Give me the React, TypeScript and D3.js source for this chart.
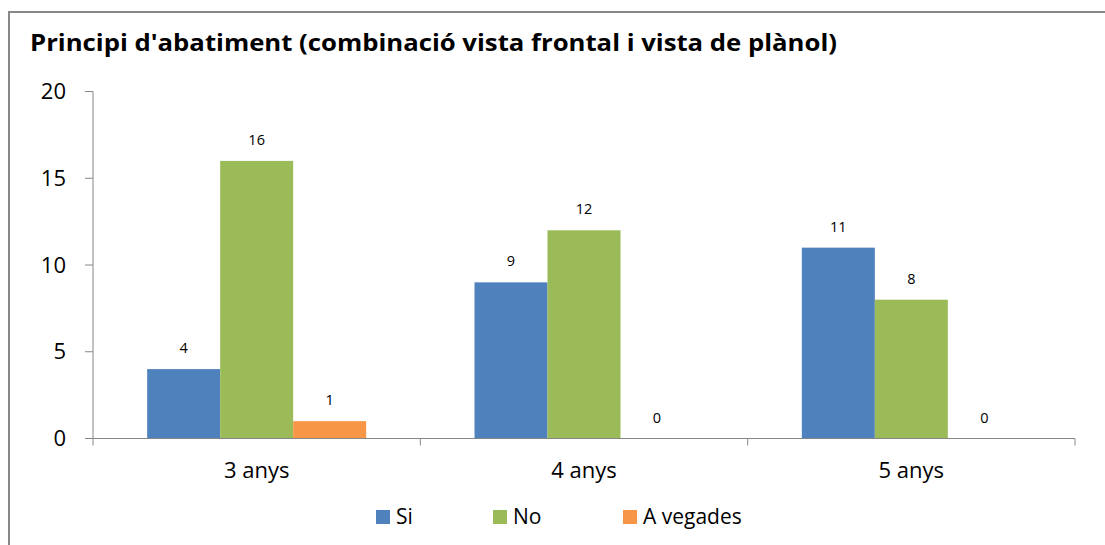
import React from 'react';
import * as d3 from 'd3';

const categories = ['3 anys', '4 anys', '5 anys'];
const seriesNames = ['Si', 'No', 'A vegades'];
const siValues = [4, 9, 11];
const noValues = [16, 12, 8];
const aVegadesValues = [1, 0, 0];
const yTicks = [0, 5, 10, 15, 20];
const colors = ['#4F81BD', '#9BBB59', '#F79646'];

const seriesValues = [siValues, noValues, aVegadesValues];

const W = 1105;
const H = 545;
const plot = { left: 93, right: 1075, top: 91.5, bottom: 438.5 };
const font = "'Open Sans', 'Liberation Sans', sans-serif";

export default function App() {
  const x = d3.scaleBand().domain(categories).range([plot.left, plot.right]).paddingInner(0);
  const groupPad = (1 - 0.669) / 2;
  const inner = d3
    .scaleBand()
    .domain(seriesNames)
    .range([x.bandwidth() * groupPad, x.bandwidth() * (1 - groupPad)]);
  const y = d3.scaleLinear().domain([0, 20]).range([plot.bottom, plot.top]);

  const axisColor = '#868686';
  const catTicks = [...categories.map(c => x(c)!), plot.right];

  const legendX = [376, 493, 623];

  return (
    <svg
      width={W}
      height={H}
      style={{ position: 'absolute', left: 0, top: 0, background: '#fff' }}
      fontFamily={font}
    >
      <rect x={9} y={12} width={W + 20} height={H + 20} fill="#fff" stroke="#888" strokeWidth={2} />
      <text x={30} y={51} fontSize={23} fontWeight="bold" fill="#000" textLength={807} lengthAdjust="spacingAndGlyphs">
        Principi d'abatiment (combinació vista frontal i vista de plànol)
      </text>

      {/* y axis */}
      <line x1={plot.left} x2={plot.left} y1={plot.top} y2={plot.bottom} stroke={axisColor} />
      {yTicks.map(t => (
        <g key={t}>
          <line x1={plot.left - 8} x2={plot.left} y1={y(t)} y2={y(t)} stroke={axisColor} />
          <text x={66} y={y(t)} dy="0.35em" textAnchor="end" fontSize={22} fill="#000">
            {t}
          </text>
        </g>
      ))}

      {/* bars */}
      {categories.map((c, ci) => (
        <g key={c} transform={`translate(${x(c)},0)`}>
          {seriesNames.map((s, si) => {
            const v = seriesValues[si][ci];
            const bx = inner(s)!;
            return (
              <g key={s}>
                {v > 0 && (
                  <rect x={bx} y={y(v)} width={inner.bandwidth()} height={y(0) - y(v)} fill={colors[si]} />
                )}
                <text
                  x={bx + inner.bandwidth() / 2}
                  y={y(v) - 21}
                  dy="0.35em"
                  textAnchor="middle"
                  fontSize={14.5}
                  fill="#000"
                >
                  {v}
                </text>
              </g>
            );
          })}
        </g>
      ))}

      {/* x axis */}
      <line x1={plot.left} x2={plot.right} y1={plot.bottom} y2={plot.bottom} stroke={axisColor} />
      {catTicks.map((t, i) => (
        <line key={i} x1={t} x2={t} y1={plot.bottom} y2={plot.bottom + 7} stroke={axisColor} />
      ))}
      {categories.map(c => (
        <text key={c} x={x(c)! + x.bandwidth() / 2} y={470} dy="0.35em" textAnchor="middle" fontSize={22} fill="#000">
          {c}
        </text>
      ))}

      {/* legend */}
      {seriesNames.map((s, i) => (
        <g key={s}>
          <rect x={legendX[i]} y={510} width={14} height={14} fill={colors[i]} />
          <text x={legendX[i] + 20} y={517} dy="0.35em" fontSize={21} fill="#000">
            {s}
          </text>
        </g>
      ))}
    </svg>
  );
}
